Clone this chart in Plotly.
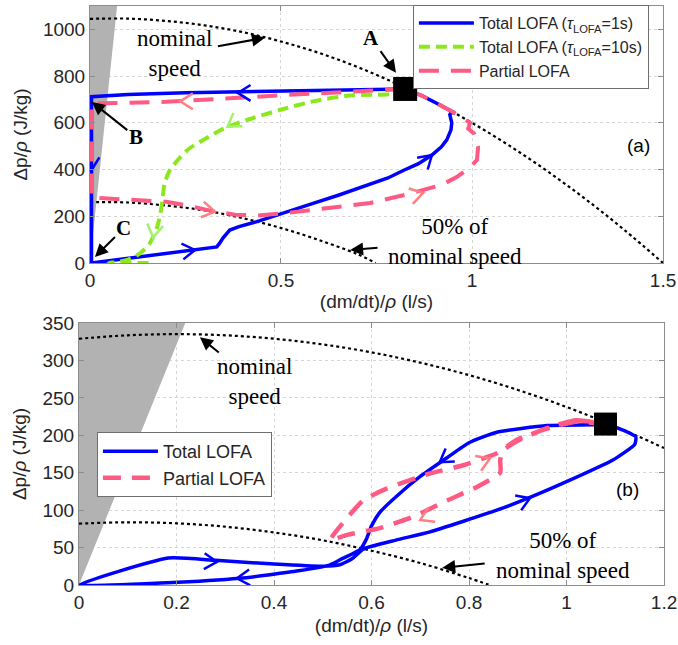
import math
import plotly.graph_objects as go

W, H = 678, 645

# ---------------- panel (a) ----------------
# pump characteristic at nominal and 50 % speed
nom_a_q = [0, 0.1, 0.2, 0.3, 0.4, 0.5, 0.6, 0.7, 0.8, 0.9, 1.0, 1.1, 1.2, 1.3, 1.4, 1.5]
nom_a_dp = [1045, 1046, 1036, 1017, 988, 948, 899, 839, 769, 690, 600, 500, 390, 270, 140, 0]
half_a_q = [0, 0.1, 0.2, 0.3, 0.4, 0.5, 0.6, 0.7, 0.748]
half_a_dp = [261, 259, 246, 225, 192, 150, 98, 38, 0]

# forbidden (shaded) zone
zone_a_q = [0, 0.071, 0, 0]
zone_a_dp = [0, 1100, 1100, 0]

# total LOFA, tau = 1 s
tot1_q = [0.825, 0.65, 0.5, 0.25, 0.1, 0.004, 0.004, 0.1, 0.2, 0.275, 0.332, 0.34, 0.348, 0.366,
          0.39, 0.437, 0.497, 0.584, 0.65, 0.707, 0.733, 0.78, 0.82, 0.86, 0.895, 0.92,
          0.934, 0.945, 0.947, 0.942, 0.945, 0.955, 0.92, 0.9, 0.87, 0.825]
tot1_dp = [745, 741, 737, 729, 721, 712, 0, 20, 40, 55, 69, 86, 107, 141,
           156, 177, 210, 255, 290, 322, 334, 364, 396, 425, 462, 497,
           527, 570, 600, 635, 645, 642, 673, 690, 715, 745]

# total LOFA, tau = 10 s
tot10_q = [0.825, 0.79, 0.74, 0.672, 0.584, 0.497, 0.41, 0.35, 0.30, 0.26, 0.235, 0.21,
           0.195, 0.19, 0.183, 0.175, 0.155, 0.13, 0.10, 0.07, 0.05, 0.16]
tot10_dp = [745, 724, 720, 716, 692, 655, 612, 575, 530, 490, 450, 400,
            340, 270, 200, 150, 80, 40, 15, 4, 0, 0]

# partial LOFA
part_a_q = [0.825, 0.72, 0.6, 0.5, 0.4, 0.3, 0.2, 0.1, 0.005, 0.004, 0.05, 0.12, 0.2,
            0.26, 0.32, 0.38, 0.44, 0.52, 0.62, 0.733, 0.82, 0.92, 0.96, 0.995, 1.013,
            1.016, 1.005, 0.99, 0.995, 0.95, 0.9, 0.87, 0.825]
part_a_dp = [745, 737, 727, 718, 708, 698, 690, 686, 684, 280, 276, 272, 262,
             245, 222, 207, 203, 215, 235, 257, 290, 334, 368, 410, 441,
             497, 555, 575, 600, 646, 690, 715, 745]

point_a = ([0.825], [745])

# direction marks (q, dp, screen angle in degrees)
marks_a_blue = [(0.387, 728, 180), (0.004, 398, 270), (0.275, 56, 7), (0.895, 462, 42)]
marks_a_pink = [(0.236, 692, 180), (0.327, 220, -10), (0.872, 300, 15)]
marks_a_green = [(0.36, 583, 215), (0.165, 110, 260)]

# ---------------- panel (b) ----------------
nom_b_q = [0, 0.1, 0.2, 0.3, 0.4, 0.5, 0.6, 0.7, 0.8, 0.9, 1.0, 1.1, 1.2]
nom_b_dp = [329, 333.6, 335.1, 333.6, 329, 321.4, 310.8, 297, 280.4, 260.6, 237.8, 211.9, 183]
half_b_q = [0, 0.1, 0.2, 0.3, 0.4, 0.5, 0.6, 0.7, 0.8, 0.84]
half_b_dp = [82, 83.8, 82.4, 77.9, 70.2, 59.7, 45.8, 29.4, 9.3, 0.6]

zone_b_q = [0, 0.218, 0, 0]
zone_b_dp = [0, 350, 350, 0]

tot_b_q = [1.08, 1.054, 0.96, 0.857, 0.80, 0.755, 0.70, 0.652, 0.617, 0.60, 0.59, 0.576,
           0.542, 0.515, 0.45, 0.33, 0.18, 0.0, 0.183, 0.28, 0.4, 0.5, 0.535, 0.56, 0.583,
           0.65, 0.72, 0.857, 0.925, 0.993, 1.095, 1.14, 1.142, 1.116, 1.08]
tot_b_dp = [215, 214, 213, 204, 190, 170, 145, 119, 97, 79, 62, 47,
            36, 27, 19, 9, 3, 0, 36, 33, 28, 25, 27, 35, 48,
            60, 71, 100, 117, 136, 167, 188, 198, 207, 215]

part_b_q = [1.08, 1.02, 0.966, 0.91, 0.87, 0.864, 0.864, 0.816, 0.755, 0.685, 0.617, 0.55,
            0.515, 0.535, 0.583, 0.632, 0.72, 0.788, 0.857, 0.898, 0.96, 1.02, 1.08]
part_b_dp = [215, 220, 211, 196, 180, 167, 150, 131, 113, 91, 76, 67,
             60, 78, 113, 129, 149, 160, 176, 194, 209, 218, 215]

point_b = ([1.08], [215])

marks_b_blue = [(0.74, 164, 215), (0.925, 116, 22), (0.283, 31, -3), (0.324, 9, 184)]
marks_b_pink = [(0.843, 169, 22), (0.70, 87, 205)]

# ---------------- styling ----------------
BLUE = "#0000ff"
PINK = "#ff5a84"
PINK_MARK = "#ff8080"
GREEN = "#8be81e"
GREEN_MARK = "#a4f070"
GREY_ZONE = "#b2b2b2"
TXT = "#262626"
SANS = "Liberation Sans"
SERIF = "Liberation Serif"

XA_DOM, YA_DOM = [0.1327, 0.9779], [0.5922, 0.9907]
XB_DOM, YB_DOM = [0.1165, 0.9794], [0.0930, 0.4992]
XA_RNG, YA_RNG = [0, 1.5], [0, 1100]
XB_RNG, YB_RNG = [0, 1.2], [0, 350]

sxa = (XA_DOM[1] - XA_DOM[0]) * W / (XA_RNG[1] - XA_RNG[0])
sya = (YA_DOM[1] - YA_DOM[0]) * H / (YA_RNG[1] - YA_RNG[0])
sxb = (XB_DOM[1] - XB_DOM[0]) * W / (XB_RNG[1] - XB_RNG[0])
syb = (YB_DOM[1] - YB_DOM[0]) * H / (YB_RNG[1] - YB_RNG[0])


def chevrons(marks, sx, sy, arm=15, half=32):
    """Open arrowheads drawn as two short strokes meeting at the tip."""
    xs, ys = [], []
    for q, dp, ang in marks:
        a1 = math.radians(ang + 180 + half)
        a2 = math.radians(ang + 180 - half)
        xs += [q + arm * math.cos(a1) / sx, q, q + arm * math.cos(a2) / sx, None]
        ys += [dp + arm * math.sin(a1) / sy, dp, dp + arm * math.sin(a2) / sy, None]
    return xs, ys


fig = go.Figure()

# ---- panel (a) traces ----
fig.add_trace(go.Scatter(x=zone_a_q, y=zone_a_dp, fill="toself", fillcolor=GREY_ZONE,
                         line=dict(width=0), mode="lines", showlegend=False,
                         hoverinfo="skip", xaxis="x", yaxis="y"))
for qq, dd in ((nom_a_q, nom_a_dp), (half_a_q, half_a_dp)):
    fig.add_trace(go.Scatter(x=qq, y=dd, mode="lines", line=dict(color="black", width=2.2, dash="dot",
                                                                  shape="spline"),
                             showlegend=False, xaxis="x", yaxis="y"))
fig.add_trace(go.Scatter(x=tot1_q, y=tot1_dp, mode="lines", line=dict(color=BLUE, width=3.5),
                         name="Total LOFA (<i>τ</i><sub>LOFA</sub>=1s)", legend="legend",
                         xaxis="x", yaxis="y"))
fig.add_trace(go.Scatter(x=tot10_q, y=tot10_dp, mode="lines",
                         line=dict(color=GREEN, width=4, dash="11px,6px", shape="spline", smoothing=0.6),
                         name="Total LOFA (<i>τ</i><sub>LOFA</sub>=10s)", legend="legend",
                         xaxis="x", yaxis="y"))
fig.add_trace(go.Scatter(x=part_a_q, y=part_a_dp, mode="lines",
                         line=dict(color=PINK, width=4, dash="20px,12px"),
                         name="Partial LOFA", legend="legend", xaxis="x", yaxis="y"))
for marks, col in ((marks_a_blue, BLUE), (marks_a_pink, PINK_MARK), (marks_a_green, GREEN_MARK)):
    cx, cy = chevrons(marks, sxa, sya)
    fig.add_trace(go.Scatter(x=cx, y=cy, mode="lines", line=dict(color=col, width=2.5),
                             showlegend=False, hoverinfo="skip", xaxis="x", yaxis="y"))
fig.add_trace(go.Scatter(x=point_a[0], y=point_a[1], mode="markers",
                         marker=dict(symbol="square", size=24, color="black"),
                         showlegend=False, xaxis="x", yaxis="y"))

# ---- panel (b) traces ----
fig.add_trace(go.Scatter(x=zone_b_q, y=zone_b_dp, fill="toself", fillcolor=GREY_ZONE,
                         line=dict(width=0), mode="lines", showlegend=False,
                         hoverinfo="skip", xaxis="x2", yaxis="y2"))
for qq, dd in ((nom_b_q, nom_b_dp), (half_b_q, half_b_dp)):
    fig.add_trace(go.Scatter(x=qq, y=dd, mode="lines", line=dict(color="black", width=2.2, dash="dot",
                                                                  shape="spline"),
                             showlegend=False, xaxis="x2", yaxis="y2"))
fig.add_trace(go.Scatter(x=tot_b_q, y=tot_b_dp, mode="lines",
                         line=dict(color=BLUE, width=3.5, shape="spline", smoothing=0.5),
                         name="Total LOFA", legend="legend2", xaxis="x2", yaxis="y2"))
fig.add_trace(go.Scatter(x=part_b_q, y=part_b_dp, mode="lines",
                         line=dict(color=PINK, width=4.5, dash="18px,11px", shape="spline", smoothing=0.5),
                         name="Partial LOFA", legend="legend2", xaxis="x2", yaxis="y2"))
for marks, col in ((marks_b_blue, BLUE), (marks_b_pink, PINK_MARK)):
    cx, cy = chevrons(marks, sxb, syb)
    fig.add_trace(go.Scatter(x=cx, y=cy, mode="lines", line=dict(color=col, width=2.5),
                             showlegend=False, hoverinfo="skip", xaxis="x2", yaxis="y2"))
fig.add_trace(go.Scatter(x=point_b[0], y=point_b[1], mode="markers",
                         marker=dict(symbol="square", size=23, color="black"),
                         showlegend=False, xaxis="x2", yaxis="y2"))

# ---- axes ----
axis_style = dict(showline=True, linecolor="#8c8c8c", linewidth=1, mirror="ticks",
                  ticks="inside", ticklen=5, tickcolor="#8c8c8c",
                  showgrid=True, gridcolor="#d6d6d6", griddash="dot", gridwidth=1,
                  zeroline=False, automargin=False,
                  tickfont=dict(family=SANS, size=19, color=TXT),
                  title_font=dict(family=SANS, size=19, color=TXT))
x_title = "(dm/dt)/<i>ρ</i> (l/s)"
y_title = "Δp/<i>ρ</i> (J/kg)"

fig.update_layout(
    xaxis=dict(axis_style, domain=XA_DOM, range=XA_RNG, anchor="y",
               tickvals=[0, 0.5, 1, 1.5], ticktext=["0", "0.5", "1", "1.5"],
               title=dict(text=x_title, standoff=4)),
    yaxis=dict(axis_style, domain=YA_DOM, range=YA_RNG, anchor="x",
               tickvals=[0, 200, 400, 600, 800, 1000],
               title=dict(text=y_title, standoff=10)),
    xaxis2=dict(axis_style, domain=XB_DOM, range=XB_RNG, anchor="y2",
                tickvals=[0, 0.2, 0.4, 0.6, 0.8, 1.0, 1.2],
                ticktext=["0", "0.2", "0.4", "0.6", "0.8", "1", "1.2"],
                title=dict(text=x_title, standoff=6)),
    yaxis2=dict(axis_style, domain=YB_DOM, range=YB_RNG, anchor="x2",
                tickvals=[0, 50, 100, 150, 200, 250, 300, 350],
                title=dict(text=y_title, standoff=10)),
)

# ---- legends ----
fig.update_layout(
    legend=dict(x=0.609, y=0.992, xanchor="left", yanchor="top", bgcolor="white",
                bordercolor="#6e6e6e", borderwidth=1, itemwidth=55, tracegroupgap=0,
                font=dict(family=SANS, size=16, color=TXT)),
    legend2=dict(x=0.143, y=0.330, xanchor="left", yanchor="top", bgcolor="white",
                 bordercolor="#6e6e6e", borderwidth=1, itemwidth=55, tracegroupgap=0,
                 font=dict(family=SANS, size=18, color=TXT)),
)

# ---- text labels, some carrying a pointer arrow ----
ann = []


def label(x, y, text, xr, yr, size=23, serif=True, head=None, gap=0):
    a = dict(xref=xr, yref=yr, text=text,
             font=dict(family=SERIF if serif else SANS, size=size, color="black"),
             xanchor="center", yanchor="middle")
    if head is None:
        a.update(x=x, y=y, showarrow=False)
    else:
        a.update(x=head[0], y=head[1], ax=x, ay=y, axref=xr, ayref=yr, showarrow=True,
                 arrowhead=2, arrowsize=1.3, arrowwidth=2, arrowcolor="black",
                 startstandoff=gap)
    ann.append(a)


label(0.2225, 895, "nominal<br>speed", "x", "y", head=(0.458, 964), gap=4)
label(0.7356, 964, "<b>A</b>", "x", "y", size=21, head=(0.801, 814))
label(0.120, 540, "<b>B</b>", "x", "y", size=21, head=(0.005, 689))
label(0.089, 150, "<b>C</b>", "x", "y", size=21, head=(0.013, 26))
label(0.9555, 90, "50% of<br>nominal speed", "x", "y", head=(0.681, 56), gap=9)
label(1.4346, 501, "(a)", "x", "y", size=19, serif=False)

label(0.361, 272, "nominal<br>speed", "x2", "y2", head=(0.248, 331))
label(0.993, 39, "50% of<br>nominal speed", "x2", "y2", head=(0.745, 23), gap=10)
label(1.126, 127, "(b)", "x2", "y2", size=19, serif=False)

fig.update_layout(
    annotations=ann,
    width=W, height=H,
    margin=dict(l=0, r=0, t=0, b=0),
    paper_bgcolor="white", plot_bgcolor="white",
    font=dict(family=SANS, color=TXT),
)

fig.write_html("out.html")
